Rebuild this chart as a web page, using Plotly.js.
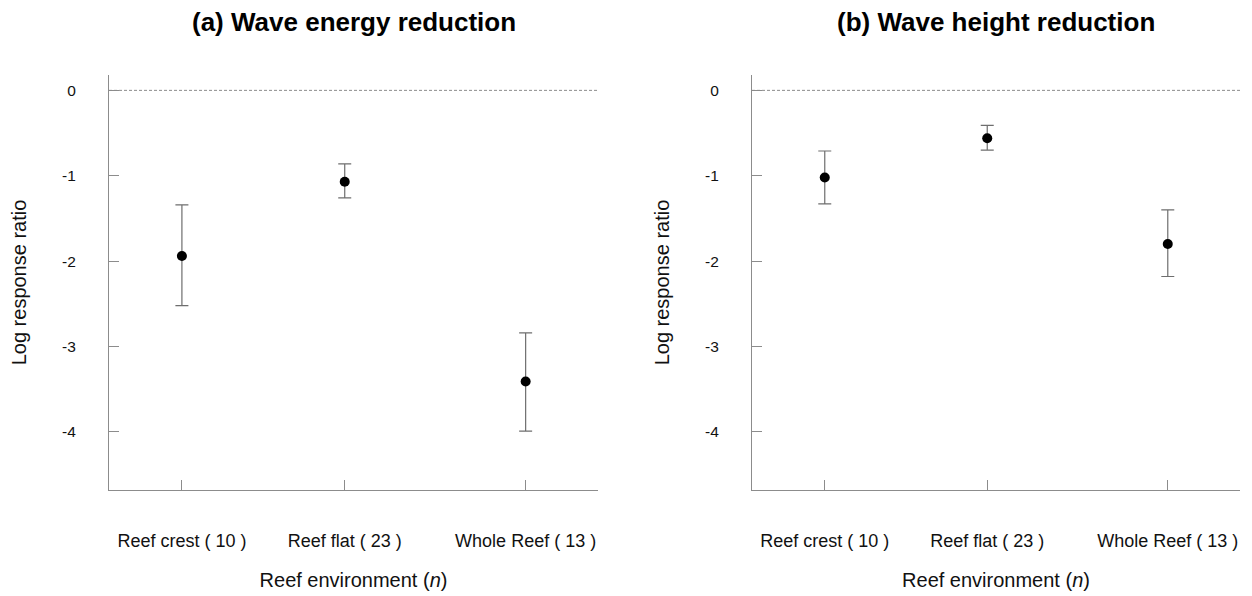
<!DOCTYPE html>
<html>
<head>
<meta charset="utf-8">
<script src="https://cdn.plot.ly/plotly-3.0.1.min.js"></script>
<style>html,body{margin:0;padding:0;background:#fff;}#chart{width:1252px;height:596px;}</style>
</head>
<body>
<div id="chart"></div>
<script>
// Categories and tick labels
var categories = ["Reef crest", "Reef flat", "Whole Reef"];
var sampleSizes = [10, 23, 13];
var tickLabels = ["Reef crest ( 10 )", "Reef flat ( 23 )", "Whole Reef ( 13 )"];
var xPositions = [1, 1.9, 2.9];

// (a) Wave energy reduction
var energyMean  = [-1.94, -1.07, -3.41];
var energyUpper = [-1.34, -0.86, -2.84];
var energyLower = [-2.52, -1.26, -3.99];

// (b) Wave height reduction
var heightMean  = [-1.02, -0.56, -1.80];
var heightUpper = [-0.71, -0.41, -1.40];
var heightLower = [-1.33, -0.70, -2.18];

var panelTitles = ["(a) Wave energy reduction", "(b) Wave height reduction"];

function diffs(a, b) { return a.map(function (v, i) { return v - b[i]; }); }

function trace(mean, upper, lower, xa, ya) {
  return {
    type: "scatter", mode: "markers",
    x: xPositions, y: mean, xaxis: xa, yaxis: ya,
    marker: {color: "#000", size: 10},
    error_y: {type: "data", symmetric: false,
      array: diffs(upper, mean), arrayminus: diffs(mean, lower),
      color: "#6e6e6e", thickness: 1.2, width: 6.5},
    showlegend: false, hoverinfo: "x+y"
  };
}

var data = [
  trace(energyMean, energyUpper, energyLower, "x", "y"),
  trace(heightMean, heightUpper, heightLower, "x2", "y2")
];

var font = {family: "Liberation Sans, Arial, sans-serif", color: "#111"};

function xaxis(domain, anchor) {
  return {
    domain: domain, anchor: anchor, range: [0.597, 3.30],
    tickvals: xPositions, ticktext: tickLabels,
    ticks: "inside", ticklen: 10, tickcolor: "#8c8c8c", tickwidth: 1,
    showline: true, linecolor: "#8c8c8c", linewidth: 1.2,
    showgrid: false, zeroline: false, fixedrange: true,
    tickfont: {family: font.family, size: 18, color: "#111"},
    ticklabelstandoff: 34,
    title: {text: "Reef environment (<i>n</i>)", font: {family: font.family, size: 20, color: "#111"}, standoff: 23}
  };
}
function yaxis(domain, anchor) {
  return {
    domain: domain, anchor: anchor, range: [-4.68, 0.18],
    tickvals: [0, -1, -2, -3, -4], ticktext: ["0", "-1", "-2", "-3", "-4"],
    ticks: "inside", ticklen: 10, tickcolor: "#8c8c8c", tickwidth: 1,
    showline: true, linecolor: "#8c8c8c", linewidth: 1.2,
    showgrid: false, zeroline: false, fixedrange: true,
    tickfont: {family: font.family, size: 15.5, color: "#111"},
    ticklabelstandoff: 29,
    title: {text: "Log response ratio", font: {family: font.family, size: 20, color: "#111"}, standoff: 30}
  };
}

var yDom = [1 - 490 / 596, 1 - 75 / 596];
var layout = {
  width: 1252, height: 596,
  margin: {l: 0, r: 0, t: 0, b: 0},
  paper_bgcolor: "#fff", plot_bgcolor: "#fff",
  font: font,
  xaxis: xaxis([109 / 1252, 598 / 1252], "y"),
  yaxis: yaxis(yDom, "x"),
  xaxis2: xaxis([752 / 1252, 1240 / 1252], "y2"),
  yaxis2: yaxis(yDom, "x2"),
  shapes: [
    {type: "line", xref: "x domain", yref: "y", x0: 0, x1: 1, y0: 0, y1: 0,
     line: {color: "#8c8c8c", width: 1, dash: "3px,2px"}},
    {type: "line", xref: "x2 domain", yref: "y2", x0: 0, x1: 1, y0: 0, y1: 0,
     line: {color: "#8c8c8c", width: 1, dash: "3px,2px"}}
  ],
  annotations: [
    {text: "<b>" + panelTitles[0] + "</b>", xref: "x domain", yref: "paper", x: 0.5, y: 1 - 22 / 596,
     xanchor: "center", yanchor: "middle", showarrow: false, font: {family: font.family, size: 26, color: "#000"}},
    {text: "<b>" + panelTitles[1] + "</b>", xref: "x2 domain", yref: "paper", x: 0.5, y: 1 - 22 / 596,
     xanchor: "center", yanchor: "middle", showarrow: false, font: {family: font.family, size: 26, color: "#000"}}
  ]
};

Plotly.newPlot("chart", data, layout, {displayModeBar: false, staticPlot: false});
</script>
</body>
</html>
